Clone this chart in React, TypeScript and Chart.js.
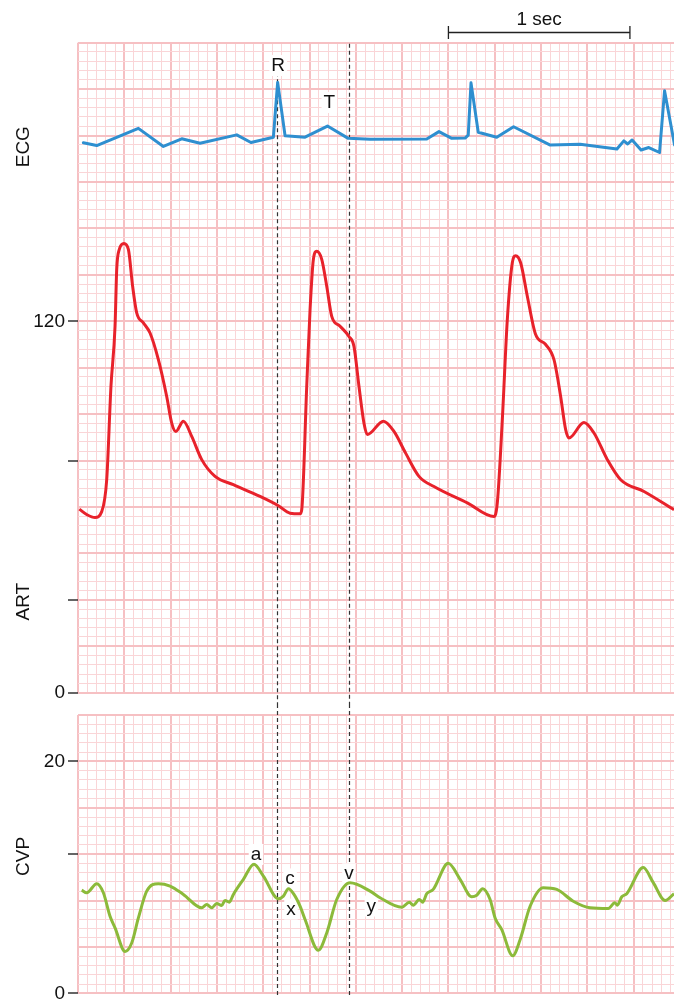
import React, { useEffect, useRef } from "react";
import { Chart, registerables } from "chart.js";

Chart.register(...registerables);

// ---------- data (time in seconds) ----------
const ecgTime = [0.029, 0.101, 0.326, 0.461, 0.56, 0.659, 0.857, 0.934, 1.055, 1.078, 1.118, 1.226, 1.347, 1.459, 1.577, 1.883, 1.949, 2.018, 2.09, 2.107, 2.122, 2.161, 2.261, 2.352, 2.55, 2.711, 2.91, 2.947, 2.968, 2.992, 3.04, 3.082, 3.14, 3.167, 3.221];
const ecgMv = [-0.13, -0.19, 0.18, -0.21, -0.045, -0.14, 0.04, -0.125, -0.01, 1.17, 0.02, -0.01, 0.23, -0.035, -0.055, -0.05, 0.11, -0.035, -0.03, 0.035, 1.16, 0.095, -0.013, 0.215, -0.18, -0.16, -0.265, -0.09, -0.157, -0.07, -0.286, -0.233, -0.34, 0.99, -0.18];

const artTime = [0.007, 0.049, 0.092, 0.128, 0.155, 0.178, 0.2, 0.209, 0.223, 0.248, 0.272, 0.295, 0.317, 0.353, 0.389, 0.434, 0.479, 0.506, 0.528, 0.569, 0.614, 0.668, 0.74, 0.839, 0.983, 1.082, 1.145, 1.199, 1.208, 1.235, 1.253, 1.271, 1.289, 1.316, 1.343, 1.37, 1.415, 1.463, 1.49, 1.517, 1.544, 1.562, 1.649, 1.706, 1.769, 1.841, 1.922, 2.102, 2.246, 2.264, 2.291, 2.318, 2.345, 2.363, 2.39, 2.426, 2.471, 2.525, 2.57, 2.606, 2.633, 2.651, 2.732, 2.786, 2.858, 2.93, 3.056, 3.218];
const artMmHg = [59.3, 57.5, 56.6, 58.5, 68.8, 99.0, 118.4, 136.7, 143.2, 145.1, 143.2, 131.3, 122.7, 119.5, 116.2, 107.6, 95.7, 87.1, 84.4, 87.7, 82.8, 75.3, 69.9, 67.2, 63.4, 60.4, 58.0, 57.8, 59.1, 99.0, 123.8, 140.0, 142.6, 140.0, 131.3, 121.6, 118.4, 115.1, 111.9, 99.0, 87.1, 83.4, 87.7, 84.4, 77.4, 69.9, 66.6, 61.3, 56.9, 61.3, 88.2, 120.5, 138.9, 141.2, 138.9, 128.1, 115.7, 112.5, 107.6, 95.7, 85.0, 82.3, 87.3, 83.9, 75.3, 68.8, 65.0, 59.1];

const cvpTime = [0.02, 0.047, 0.101, 0.137, 0.173, 0.2, 0.254, 0.29, 0.326, 0.371, 0.434, 0.497, 0.569, 0.668, 0.695, 0.722, 0.749, 0.776, 0.794, 0.817, 0.839, 0.893, 0.95, 1.001, 1.082, 1.109, 1.136, 1.166, 1.199, 1.226, 1.298, 1.343, 1.397, 1.469, 1.577, 1.631, 1.748, 1.789, 1.81, 1.843, 1.861, 1.883, 1.918, 1.999, 2.063, 2.126, 2.153, 2.185, 2.225, 2.252, 2.288, 2.347, 2.387, 2.441, 2.512, 2.585, 2.674, 2.765, 2.863, 2.899, 2.912, 2.936, 2.963, 3.052, 3.106, 3.17, 3.218];
const cvpMmHg = [8.9, 8.67, 9.45, 8.67, 6.64, 5.64, 3.61, 4.34, 6.5, 8.81, 9.45, 9.25, 8.53, 7.37, 7.66, 7.37, 7.74, 7.57, 8.01, 7.86, 8.53, 9.83, 11.13, 10.11, 8.15, 8.38, 9.02, 8.53, 7.51, 6.36, 3.71, 5.2, 8.09, 9.54, 8.81, 8.24, 7.42, 7.86, 7.6, 8.09, 7.86, 8.59, 8.96, 11.21, 9.83, 8.33, 8.46, 9.02, 8.09, 6.5, 5.49, 3.24, 4.62, 7.51, 9.11, 8.96, 7.94, 7.37, 7.31, 7.81, 7.6, 8.33, 8.59, 10.84, 9.54, 8.01, 8.59];

// axis tick marks & labels
const artTickValues = [0, 30, 75, 120];
const artTickLabels = ["0", "", "", "120"];
const cvpTickValues = [0, 12, 20];
const cvpTickLabels = ["0", "", "20"];

// annotations
const markerTimes = [1.077, 1.463];
const markerStartMv = [1.39, 2.0];
const ecgLabelText = ["R", "T"];
const ecgLabelTime = [1.081, 1.357];
const ecgLabelMv = [1.415, 0.618];
const cvpLabelText = ["a", "c", "x", "v", "y"];
const cvpLabelTime = [0.961, 1.145, 1.15, 1.463, 1.584];
const cvpLabelMmHg = [11.5, 9.39, 6.79, 9.83, 7.05];
const channelNames = ["ECG", "ART", "CVP"];
const scaleBarText = "1 sec";
const scaleBarFrom = 2.0;
const scaleBarTo = 2.98;

// ---------- styles ----------
const FONT = '"Liberation Sans", Arial, Helvetica, sans-serif';
const MAJOR = "#f6c0c3";
const MINOR = "#fad5d7";
const INK = "#111111";
const ECG_COLOR = "#2e8fd0";
const ART_COLOR = "#e8222b";
const CVP_COLOR = "#8cba3a";

const X_MAX = 3.218;
const X_STEP = 0.05;
const ART_STEP = 3;
const CVP_STEP = 0.8;

function isMajor(value: number, step: number) {
  return Math.round(value / step) % 5 === 0;
}

function gridFor(step: number, extra: any = {}) {
  return {
    color: (c: any) => (isMajor(c.tick ? c.tick.value : 0, step) ? MAJOR : MINOR),
    lineWidth: (c: any) => (isMajor(c.tick ? c.tick.value : 0, step) ? 2 : 1),
    ...extra,
  };
}

function matchIndex(values: number[], v: number, step: number) {
  return values.findIndex((m) => Math.abs(m - v) < step / 10);
}

function drawBoxed(ctx: CanvasRenderingContext2D, text: string, x: number, baseline: number) {
  ctx.save();
  ctx.font = `19px ${FONT}`;
  const w = ctx.measureText(text).width;
  ctx.fillStyle = "#ffffff";
  ctx.fillRect(x - w / 2 - 2, baseline - 16, w + 4, 21);
  ctx.fillStyle = INK;
  ctx.textAlign = "center";
  ctx.textBaseline = "alphabetic";
  ctx.fillText(text, x, baseline);
  ctx.restore();
}

function drawChannel(ctx: CanvasRenderingContext2D, text: string, y: number) {
  ctx.save();
  ctx.font = `19px ${FONT}`;
  ctx.fillStyle = INK;
  ctx.translate(28.8, y);
  ctx.rotate(-Math.PI / 2);
  ctx.textAlign = "center";
  ctx.textBaseline = "alphabetic";
  ctx.fillText(text, 0, 0);
  ctx.restore();
}

function dashed(ctx: CanvasRenderingContext2D, x: number, y1: number, y2: number) {
  ctx.save();
  ctx.strokeStyle = "#333333";
  ctx.lineWidth = 1.2;
  ctx.setLineDash([4, 3]);
  ctx.beginPath();
  ctx.moveTo(Math.round(x) + 0.5, y1);
  ctx.lineTo(Math.round(x) + 0.5, y2);
  ctx.stroke();
  ctx.restore();
}

function pts(xs: number[], ys: number[]) {
  return xs.map((x, i) => ({ x, y: ys[i] }));
}

const xAxis = {
  type: "linear",
  min: 0,
  max: X_MAX,
  ticks: { display: false, stepSize: X_STEP, includeBounds: false },
  grid: gridFor(X_STEP, { drawTicks: false }),
  border: { display: false },
  afterFit: (s: any) => {
    s.height = 0;
    s.paddingLeft = 0;
    s.paddingRight = 0;
  },
};

export default function App() {
  const topRef = useRef<HTMLCanvasElement>(null);
  const botRef = useRef<HTMLCanvasElement>(null);

  useEffect(() => {
    const topPlugin = {
      id: "topOverlay",
      beforeDatasetsDraw(chart: any) {
        const { ctx, scales } = chart;
        markerTimes.forEach((t, i) => {
          dashed(ctx, scales.x.getPixelForValue(t), scales.yEcg.getPixelForValue(markerStartMv[i]), chart.height);
        });
        ecgLabelText.forEach((txt, i) => {
          drawBoxed(ctx, txt, scales.x.getPixelForValue(ecgLabelTime[i]), scales.yEcg.getPixelForValue(ecgLabelMv[i]));
        });
      },
      afterDraw(chart: any) {
        const { ctx, scales } = chart;
        drawChannel(ctx, channelNames[0], scales.yEcg.getPixelForValue(-0.215));
        drawChannel(ctx, channelNames[1], scales.yArt.getPixelForValue(29.4));
        const x1 = scales.x.getPixelForValue(scaleBarFrom);
        const x2 = scales.x.getPixelForValue(scaleBarTo);
        ctx.save();
        ctx.strokeStyle = "#222222";
        ctx.lineWidth = 1.3;
        ctx.beginPath();
        ctx.moveTo(x1, 32.5);
        ctx.lineTo(x2, 32.5);
        ctx.moveTo(x1, 26);
        ctx.lineTo(x1, 39);
        ctx.moveTo(x2, 26);
        ctx.lineTo(x2, 39);
        ctx.stroke();
        ctx.font = `19px ${FONT}`;
        ctx.fillStyle = INK;
        ctx.textAlign = "center";
        ctx.textBaseline = "alphabetic";
        ctx.fillText(scaleBarText, (x1 + x2) / 2, 25);
        ctx.restore();
      },
    };

    const botPlugin = {
      id: "botOverlay",
      beforeDatasetsDraw(chart: any) {
        const { ctx, scales, chartArea } = chart;
        markerTimes.forEach((t) => {
          dashed(ctx, scales.x.getPixelForValue(t), 0, chartArea.bottom + 2);
        });
        cvpLabelText.forEach((txt, i) => {
          drawBoxed(ctx, txt, scales.x.getPixelForValue(cvpLabelTime[i]), scales.yCvp.getPixelForValue(cvpLabelMmHg[i]));
        });
      },
      afterDraw(chart: any) {
        const { ctx, scales } = chart;
        drawChannel(ctx, channelNames[2], scales.yCvp.getPixelForValue(11.8));
      },
    };

    const c1 = new Chart(topRef.current as HTMLCanvasElement, {
      type: "line",
      data: {
        datasets: [
          {
            label: "ECG",
            data: pts(ecgTime, ecgMv),
            yAxisID: "yEcg",
            borderColor: ECG_COLOR,
            borderWidth: 3,
            pointRadius: 0,
            tension: 0,
            borderJoinStyle: "round",
            borderCapStyle: "round",
          },
          {
            label: "ART",
            data: pts(artTime, artMmHg),
            yAxisID: "yArt",
            borderColor: ART_COLOR,
            borderWidth: 3,
            pointRadius: 0,
            cubicInterpolationMode: "monotone",
            borderJoinStyle: "round",
          },
        ],
      },
      options: {
        responsive: false,
        animation: false,
        devicePixelRatio: 1,
        layout: { padding: { top: 42.7, bottom: 11.3, left: 0, right: 0 } },
        plugins: { legend: { display: false }, tooltip: { enabled: false } },
        scales: {
          x: xAxis,
          yArt: {
            type: "linear",
            position: "left",
            min: 0,
            max: 210,
            ticks: {
              stepSize: ART_STEP,
              autoSkip: false,
              padding: 3,
              color: INK,
              font: { family: FONT, size: 19 },
              callback: (v: any) => {
                const i = matchIndex(artTickValues, Number(v), ART_STEP);
                return i >= 0 ? artTickLabels[i] : "";
              },
            },
            grid: gridFor(ART_STEP, {
              drawTicks: true,
              tickLength: 10,
              tickWidth: 1.3,
              tickColor: (c: any) =>
                matchIndex(artTickValues, c.tick ? c.tick.value : -1, ART_STEP) >= 0 ? INK : "rgba(0,0,0,0)",
            }),
            border: { display: false },
            afterFit: (s: any) => {
              s.width = 78;
              s.paddingTop = 0;
              s.paddingBottom = 0;
            },
          },
          yEcg: { type: "linear", display: false, min: -11.975, max: 2.025 },
        },
      } as any,
      plugins: [topPlugin],
    } as any);

    const c2 = new Chart(botRef.current as HTMLCanvasElement, {
      type: "line",
      data: {
        datasets: [
          {
            label: "CVP",
            data: pts(cvpTime, cvpMmHg),
            yAxisID: "yCvp",
            borderColor: CVP_COLOR,
            borderWidth: 3,
            pointRadius: 0,
            cubicInterpolationMode: "monotone",
            borderJoinStyle: "round",
          },
        ],
      },
      options: {
        responsive: false,
        animation: false,
        devicePixelRatio: 1,
        layout: { padding: { top: 11, bottom: 7.7, left: 0, right: 0 } },
        plugins: { legend: { display: false }, tooltip: { enabled: false } },
        scales: {
          x: xAxis,
          yCvp: {
            type: "linear",
            position: "left",
            min: 0,
            max: 24,
            ticks: {
              stepSize: CVP_STEP,
              autoSkip: false,
              padding: 3,
              color: INK,
              font: { family: FONT, size: 19 },
              callback: (v: any) => {
                const i = matchIndex(cvpTickValues, Number(v), CVP_STEP);
                return i >= 0 ? cvpTickLabels[i] : "";
              },
            },
            grid: gridFor(CVP_STEP, {
              drawTicks: true,
              tickLength: 10,
              tickWidth: 1.3,
              tickColor: (c: any) =>
                matchIndex(cvpTickValues, c.tick ? c.tick.value : -1, CVP_STEP) >= 0 ? INK : "rgba(0,0,0,0)",
            }),
            border: { display: false },
            afterFit: (s: any) => {
              s.width = 78;
              s.paddingTop = 0;
              s.paddingBottom = 0;
            },
          },
        },
      } as any,
      plugins: [botPlugin],
    } as any);

    return () => {
      c1.destroy();
      c2.destroy();
    };
  }, []);

  return (
    <div style={{ position: "absolute", left: 0, top: 0, width: 674, height: 1001, background: "#ffffff" }}>
      <canvas
        ref={topRef}
        width={674}
        height={704}
        style={{ position: "absolute", left: 0, top: 0, width: 674, height: 704, display: "block" }}
      />
      <canvas
        ref={botRef}
        width={674}
        height={297}
        style={{ position: "absolute", left: 0, top: 704, width: 674, height: 297, display: "block" }}
      />
    </div>
  );
}
